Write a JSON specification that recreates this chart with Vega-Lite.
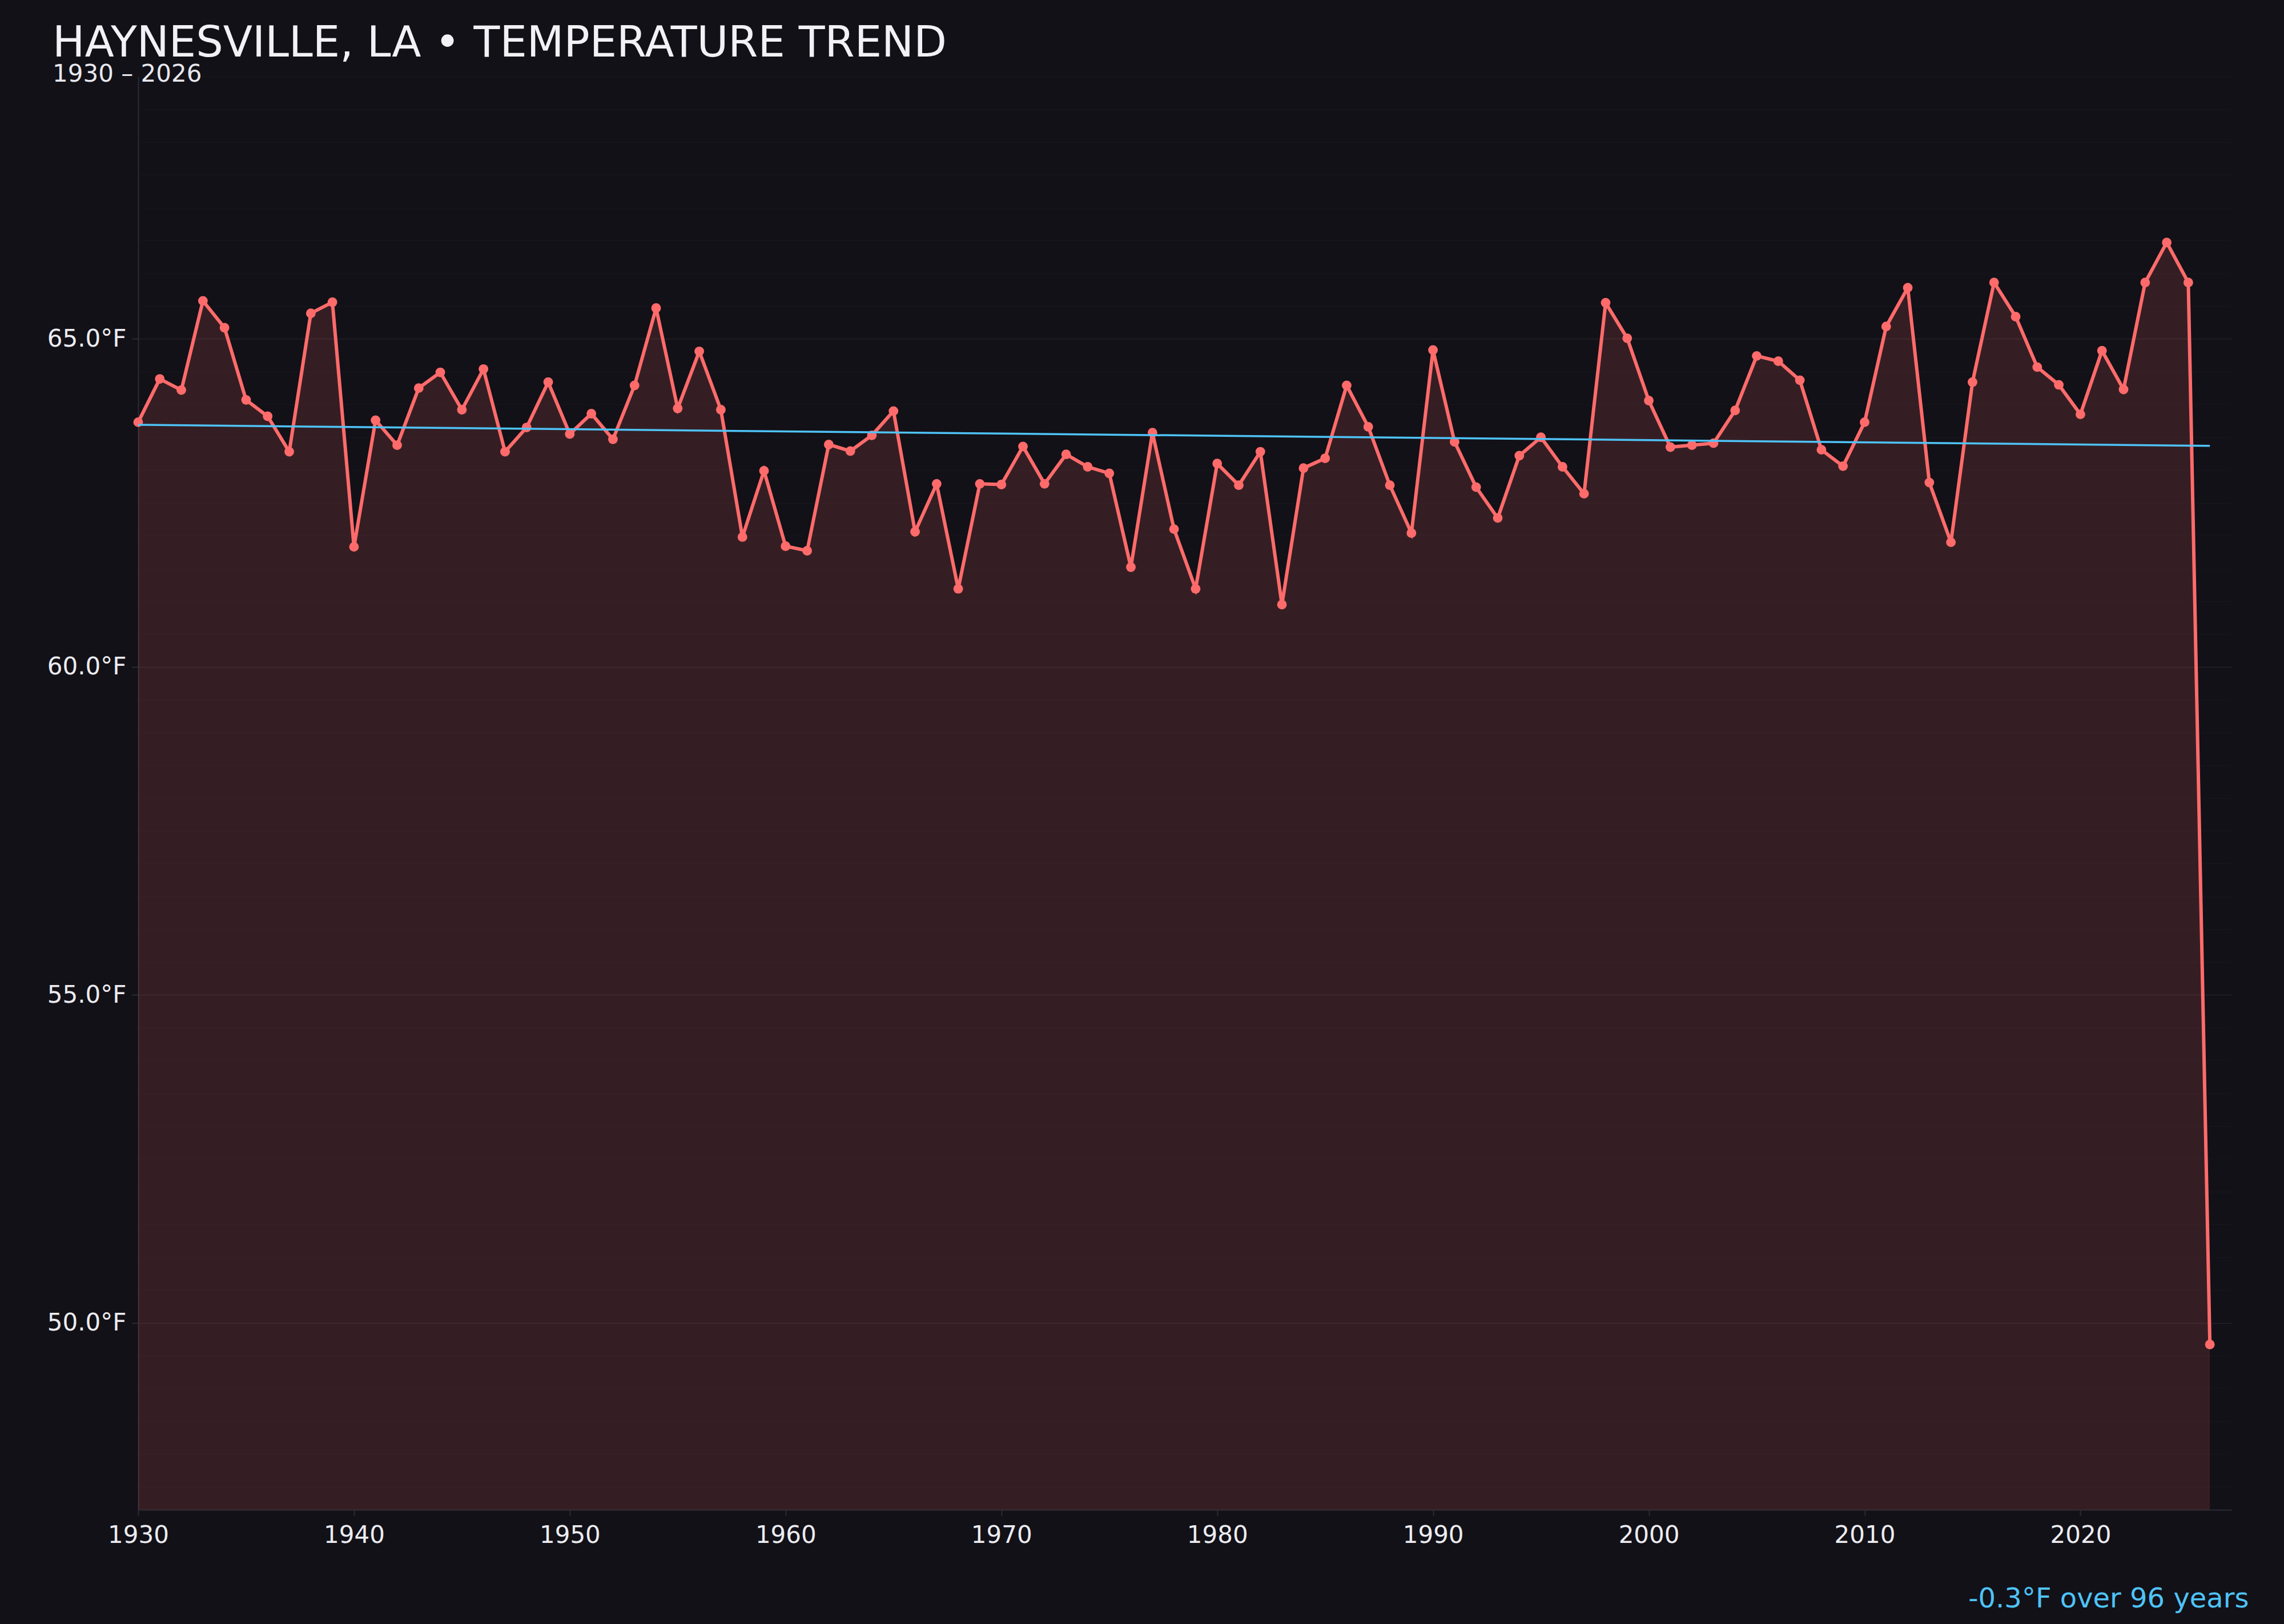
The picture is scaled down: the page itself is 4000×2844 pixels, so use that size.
{
  "$schema": "https://vega.github.io/schema/vega-lite/v6.json",
  "width": 3666,
  "height": 2510,
  "autosize": "none",
  "padding": {"left": 242, "top": 134, "right": 92, "bottom": 200},
  "background": "#121117",
  "title": {
    "text": "HAYNESVILLE, LA • TEMPERATURE TREND",
    "subtitle": "1930 – 2026",
    "anchor": "start",
    "frame": "group",
    "dx": -150,
    "offset": -18,
    "font": "DejaVu Sans",
    "fontSize": 75,
    "fontWeight": "normal",
    "color": "#f2f2f6",
    "subtitleFont": "DejaVu Sans",
    "subtitleFontSize": 42,
    "subtitleColor": "#e8e8ee",
    "subtitlePadding": -5
  },
  "datasets": {
    "temps": [
      {"year": 1930, "temp": 63.73}, {"year": 1931, "temp": 64.39}, {"year": 1932, "temp": 64.22},
      {"year": 1933, "temp": 65.58}, {"year": 1934, "temp": 65.17}, {"year": 1935, "temp": 64.07},
      {"year": 1936, "temp": 63.82}, {"year": 1937, "temp": 63.28}, {"year": 1938, "temp": 65.39},
      {"year": 1939, "temp": 65.56}, {"year": 1940, "temp": 61.83}, {"year": 1941, "temp": 63.76},
      {"year": 1942, "temp": 63.38}, {"year": 1943, "temp": 64.25}, {"year": 1944, "temp": 64.49},
      {"year": 1945, "temp": 63.92}, {"year": 1946, "temp": 64.54}, {"year": 1947, "temp": 63.28},
      {"year": 1948, "temp": 63.65}, {"year": 1949, "temp": 64.34}, {"year": 1950, "temp": 63.55},
      {"year": 1951, "temp": 63.86}, {"year": 1952, "temp": 63.47}, {"year": 1953, "temp": 64.29},
      {"year": 1954, "temp": 65.47}, {"year": 1955, "temp": 63.94}, {"year": 1956, "temp": 64.81},
      {"year": 1957, "temp": 63.92}, {"year": 1958, "temp": 61.98}, {"year": 1959, "temp": 62.99},
      {"year": 1960, "temp": 61.84}, {"year": 1961, "temp": 61.77}, {"year": 1962, "temp": 63.39},
      {"year": 1963, "temp": 63.29}, {"year": 1964, "temp": 63.53}, {"year": 1965, "temp": 63.90},
      {"year": 1966, "temp": 62.06}, {"year": 1967, "temp": 62.79}, {"year": 1968, "temp": 61.19},
      {"year": 1969, "temp": 62.79}, {"year": 1970, "temp": 62.78}, {"year": 1971, "temp": 63.36},
      {"year": 1972, "temp": 62.79}, {"year": 1973, "temp": 63.24}, {"year": 1974, "temp": 63.05},
      {"year": 1975, "temp": 62.95}, {"year": 1976, "temp": 61.52}, {"year": 1977, "temp": 63.57},
      {"year": 1978, "temp": 62.10}, {"year": 1979, "temp": 61.19}, {"year": 1980, "temp": 63.10},
      {"year": 1981, "temp": 62.77}, {"year": 1982, "temp": 63.28}, {"year": 1983, "temp": 60.95},
      {"year": 1984, "temp": 63.03}, {"year": 1985, "temp": 63.18}, {"year": 1986, "temp": 64.29},
      {"year": 1987, "temp": 63.66}, {"year": 1988, "temp": 62.77}, {"year": 1989, "temp": 62.04},
      {"year": 1990, "temp": 64.83}, {"year": 1991, "temp": 63.43}, {"year": 1992, "temp": 62.74},
      {"year": 1993, "temp": 62.27}, {"year": 1994, "temp": 63.22}, {"year": 1995, "temp": 63.50},
      {"year": 1996, "temp": 63.05}, {"year": 1997, "temp": 62.64}, {"year": 1998, "temp": 65.55},
      {"year": 1999, "temp": 65.01}, {"year": 2000, "temp": 64.06}, {"year": 2001, "temp": 63.35},
      {"year": 2002, "temp": 63.38}, {"year": 2003, "temp": 63.41}, {"year": 2004, "temp": 63.91},
      {"year": 2005, "temp": 64.74}, {"year": 2006, "temp": 64.66}, {"year": 2007, "temp": 64.37},
      {"year": 2008, "temp": 63.31}, {"year": 2009, "temp": 63.06}, {"year": 2010, "temp": 63.73},
      {"year": 2011, "temp": 65.19}, {"year": 2012, "temp": 65.78}, {"year": 2013, "temp": 62.81},
      {"year": 2014, "temp": 61.90}, {"year": 2015, "temp": 64.34}, {"year": 2016, "temp": 65.86},
      {"year": 2017, "temp": 65.34}, {"year": 2018, "temp": 64.57}, {"year": 2019, "temp": 64.30},
      {"year": 2020, "temp": 63.85}, {"year": 2021, "temp": 64.82}, {"year": 2022, "temp": 64.23},
      {"year": 2023, "temp": 65.86}, {"year": 2024, "temp": 66.47}, {"year": 2025, "temp": 65.86},
      {"year": 2026, "temp": 49.67}
    ],
    "trend": [
      {"year": 1930, "temp": 63.69},
      {"year": 2026, "temp": 63.37}
    ]
  },
  "encoding": {
    "x": {
      "field": "year",
      "type": "quantitative",
      "scale": {"domain": [1930, 2027], "nice": false, "zero": false},
      "axis": {
        "values": [1930, 1940, 1950, 1960, 1970, 1980, 1990, 2000, 2010, 2020],
        "format": "d",
        "grid": false,
        "labelFlush": false,
        "labelOverlap": false,
        "domainColor": "#2c2b34",
        "domainWidth": 2,
        "tickColor": "#2c2b34",
        "tickWidth": 2,
        "tickSize": 10,
        "labelPadding": 14,
        "labelFont": "DejaVu Sans",
        "labelFontSize": 42,
        "labelColor": "#ececf1",
        "title": "-0.3°F over 96 years",
        "titleFont": "DejaVu Sans",
        "titleFontSize": 48,
        "titleFontWeight": "normal",
        "titleColor": "#4fc3f7",
        "titleX": 3696,
        "titleY": 170,
        "titleAlign": "right",
        "titleBaseline": "alphabetic"
      }
    },
    "y": {
      "field": "temp",
      "type": "quantitative",
      "scale": {"domain": [47.15, 69.0], "nice": false, "zero": false},
      "axis": {
        "values": [47.5, 48, 48.5, 49, 49.5, 50, 50.5, 51, 51.5, 52, 52.5, 53, 53.5, 54, 54.5, 55, 55.5, 56, 56.5, 57, 57.5, 58, 58.5, 59, 59.5, 60, 60.5, 61, 61.5, 62, 62.5, 63, 63.5, 64, 64.5, 65, 65.5, 66, 66.5, 67, 67.5, 68, 68.5, 69],
        "labelExpr": "datum.value % 5 === 0 ? format(datum.value, '.1f') + '°F' : ''",
        "gridColor": "#ffffff",
        "gridWidth": 1.5,
        "gridOpacity": {"condition": {"test": "datum.value % 5 === 0", "value": 0.075}, "value": 0.025},
        "tickOpacity": {"condition": {"test": "datum.value % 5 === 0", "value": 1}, "value": 0},
        "domainColor": "#2c2b34",
        "domainWidth": 2,
        "tickColor": "#2c2b34",
        "tickWidth": 2,
        "tickSize": 11,
        "labelPadding": 10,
        "labelFont": "DejaVu Sans",
        "labelFontSize": 42,
        "labelColor": "#ececf1",
        "title": null
      }
    }
  },
  "layer": [
    {
      "data": {"name": "temps"},
      "mark": {"type": "area", "color": "#ff6b6b", "opacity": 0.15, "clip": true}
    },
    {
      "data": {"name": "temps"},
      "mark": {"type": "line", "color": "#ff6b6b", "strokeWidth": 6}
    },
    {
      "data": {"name": "temps"},
      "mark": {"type": "circle", "color": "#ff6b6b", "opacity": 1, "size": 285}
    },
    {
      "data": {"name": "trend"},
      "mark": {"type": "line", "color": "#4fc3f7", "strokeWidth": 3.5}
    }
  ],
  "config": {
    "view": {"stroke": null},
    "font": "DejaVu Sans"
  }
}
